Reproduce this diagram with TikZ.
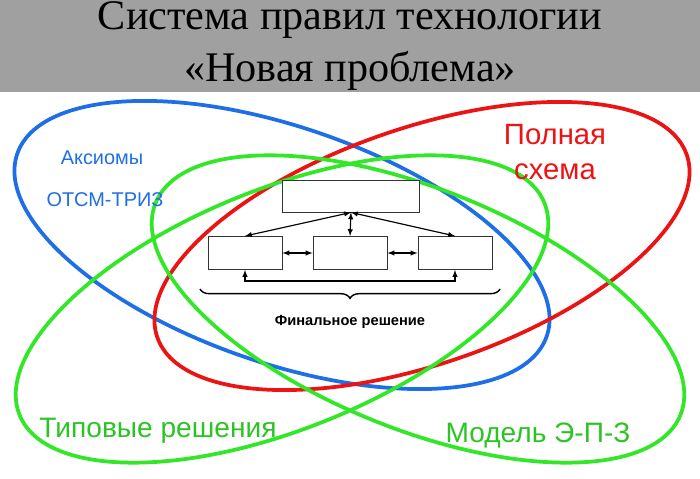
\documentclass[tikz,border=0pt]{standalone}
\usepackage{fontspec}
\setmainfont{Liberation Serif}
\newfontfamily\arial{Liberation Sans}
\usetikzlibrary{decorations.pathreplacing}
\definecolor{ringblue}{RGB}{30,110,230}
\definecolor{ringred}{RGB}{235,20,20}
\definecolor{ringgreen}{RGB}{50,230,40}
\definecolor{bandgray}{RGB}{160,160,160}
\tikzset{
  ring/.style={line width=3.2pt},
  box/.style={draw=black!80, fill=white, line width=0.8pt, minimum width=74*0.03cm, minimum height=33*0.03cm, inner sep=0pt},
  link/.style={<->, >=latex, line width=1pt}
}
\begin{document}
\begin{tikzpicture}[x=0.03cm, y=0.03cm]
\useasboundingbox (0,0) rectangle (700,479);
% Header
\fill[bandgray] (0,387) rectangle (700,479);
\node[font=\fontsize{36}{44}\selectfont, align=center] (title) at (350,433) {Система правил технологии\\«Новая проблема»};

% Rings
\draw[ring, ringblue] (282,234) ellipse [x radius=280, y radius=118, rotate=-19];
\draw[ring, ringred] (422,233) ellipse [x radius=280, y radius=118, rotate=19];
\draw[ring, ringgreen] (282,170) ellipse [x radius=283, y radius=120, rotate=22];
\draw[ring, ringgreen] (418,170) ellipse [x radius=283, y radius=120, rotate=-22];

% Labels
\node[ringblue, font=\arial\fontsize{17}{20}\selectfont] (axioms) at (102,321) {Аксиомы};
\node[ringblue, font=\arial\fontsize{17}{20}\selectfont] (otsm) at (105,279) {ОТСМ-ТРИЗ};
\node[ringred, font=\arial\fontsize{25}{30}\selectfont, align=center] (full) at (555,327) {Полная\\схема};
\node[ringgreen!85!black, font=\arial\fontsize{24}{28}\selectfont] (typical) at (158,48) {Типовые решения};
\node[ringgreen!85!black, font=\arial\fontsize{24}{28}\selectfont] (model) at (538,44) {Модель Э-П-З};

% Final solution scheme
\node[box, minimum width=137*0.03cm, minimum height=32*0.03cm] (top) at (351,283) {};
\node[box] (left) at (245,226) {};
\node[box] (mid) at (350,226) {};
\node[box] (right) at (455,226) {};
\draw[link] (top.south) -- (left.north);
\draw[link] (top.south) -- (mid.north);
\draw[link] (top.south) -- (right.north);
\draw[link] (left) -- (mid);
\draw[link] (mid) -- (right);
\draw[link] (left.south) -- ++(0,-11) -| (right.south);

% Brace
\draw[line width=1.2pt, decorate, decoration={brace, mirror, amplitude=8}] (200,190) -- (500,190);
\node[font=\arial\bfseries\fontsize{12.5}{15}\selectfont] (final) at (350,157) {Финальное решение};
\end{tikzpicture}
\end{document}
